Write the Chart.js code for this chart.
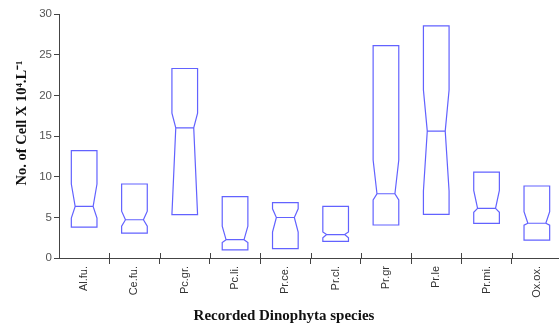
<!DOCTYPE html>
<html>
<head>
<meta charset="utf-8">
<script src="https://cdn.jsdelivr.net/npm/chart.js@4.4.1/dist/chart.umd.min.js"></script>
<style>
    html, body { margin: 0; padding: 0; background: #fff; overflow: hidden; }
    canvas { display: block; }
</style>
</head>
<body>
<canvas id="chart-box" width="565" height="327"></canvas>
<script>
/* ========================================
   Notched box plot — Dinophyta species
   ======================================== */

const SPECIES = ['Al.fu.', 'Ce.fu.', 'Pc.gr.', 'Pc.li.', 'Pr.ce.', 'Pr.cl.', 'Pr.gr', 'Pr.le', 'Pr.mi.', 'Ox.ox.'];

// box stats (No. of cell x 10^4 / L)
const Q3       = [13.2, 9.1, 23.3, 7.55, 6.8, 6.35, 26.1, 28.55, 10.55, 8.85];
const NOTCH_HI = [9.1, 5.75, 17.8, 3.9, 6.05, 3.2, 12.05, 20.65, 8.3, 5.7];
const MEDIAN   = [6.35, 4.7, 16.0, 2.25, 4.98, 2.88, 7.9, 15.6, 6.1, 4.27];
const NOTCH_LO = [4.9, 3.9, 5.33, 1.9, 3.2, 2.48, 7.15, 8.25, 5.62, 4.03];
const Q1       = [3.8, 3.05, 5.33, 1.0, 1.15, 2.05, 4.06, 5.37, 4.26, 2.2];

const Y_TICKS = [0, 5, 10, 15, 20, 25, 30];

const BOX_COLOR = 'rgb(98,98,255)';
const AXIS_COLOR = '#444';

// draws the notched outlines on top of the (invisible) floating bars
const notchPlugin = {
    id: 'notchBoxes',
    afterDatasetsDraw(chart) {
        const ctx = chart.ctx;
        const y = chart.scales.y;
        const bars = chart.getDatasetMeta(0).data;
        ctx.save();
        ctx.strokeStyle = BOX_COLOR;
        ctx.lineWidth = 1.2;
        bars.forEach((bar, i) => {
            const hw = bar.width / 2;
            const l = bar.x - hw, r = bar.x + hw;
            const inset = bar.width * 0.15;
            const yTop = y.getPixelForValue(Q3[i]);
            const yHi = y.getPixelForValue(NOTCH_HI[i]);
            const yMed = y.getPixelForValue(MEDIAN[i]);
            const yLo = y.getPixelForValue(NOTCH_LO[i]);
            const yBot = y.getPixelForValue(Q1[i]);
            ctx.beginPath();
            ctx.moveTo(l, yTop);
            ctx.lineTo(r, yTop);
            ctx.lineTo(r, yHi);
            ctx.lineTo(r - inset, yMed);
            ctx.lineTo(r, yLo);
            ctx.lineTo(r, yBot);
            ctx.lineTo(l, yBot);
            ctx.lineTo(l, yLo);
            ctx.lineTo(l + inset, yMed);
            ctx.lineTo(l, yHi);
            ctx.closePath();
            ctx.moveTo(l + inset, yMed);
            ctx.lineTo(r - inset, yMed);
            ctx.stroke();
        });

        // category separators poke a little above the x axis too
        const x = chart.scales.x;
        const yAxis = chart.chartArea.bottom;
        ctx.strokeStyle = AXIS_COLOR;
        ctx.lineWidth = 1;
        for (let i = 1; i < SPECIES.length; i++) {
            const px = Math.round((x.getPixelForValue(i - 1) + x.getPixelForValue(i)) / 2) + 0.5;
            ctx.beginPath();
            ctx.moveTo(px, yAxis - 5);
            ctx.lineTo(px, yAxis);
            ctx.stroke();
        }
        ctx.restore();
    },
    afterDraw(chart) {
        const ctx = chart.ctx;
        ctx.save();
        ctx.fillStyle = '#111';
        ctx.font = 'bold 15px "Liberation Serif", "Times New Roman", serif';
        ctx.textAlign = 'center';
        ctx.textBaseline = 'middle';
        ctx.fillText('Recorded Dinophyta species', 284, 316);

        ctx.translate(22, 123);
        ctx.rotate(-Math.PI / 2);
        ctx.font = 'bold 14.5px "Liberation Serif", "Times New Roman", serif';
        ctx.fillText('No. of Cell X 10\u2074.L\u207B\u00B9', 0, 0);
        ctx.restore();
    }
};

new Chart(document.getElementById('chart-box'), {
    type: 'bar',
    data: {
        labels: SPECIES,
        datasets: [{
            data: Q1.map((lo, i) => [lo, Q3[i]]),
            backgroundColor: 'transparent',
            borderWidth: 0,
            barPercentage: 0.51,
            categoryPercentage: 1
        }]
    },
    options: {
        responsive: false,
        animation: false,
        layout: { padding: { left: 0, top: 14, right: 3, bottom: 0 } },
        plugins: {
            legend: { display: false },
            tooltip: { enabled: false }
        },
        scales: {
            x: {
                offset: true,
                border: { display: true, color: AXIS_COLOR, width: 1 },
                grid: {
                    drawOnChartArea: false,
                    drawTicks: true,
                    tickLength: 6,
                    color: c => (c.index === 0 ? 'transparent' : AXIS_COLOR)
                },
                ticks: {
                    minRotation: 90, maxRotation: 90,
                    padding: 2,
                    color: '#333',
                    font: { family: '"Liberation Sans", Arial, sans-serif', size: 11 }
                },
                afterFit: s => { s.height = 69; }
            },
            y: {
                min: 0, max: 30,
                afterBuildTicks: s => { s.ticks = Y_TICKS.map(v => ({ value: v })); },
                border: { display: true, color: AXIS_COLOR, width: 1 },
                grid: { drawOnChartArea: false, drawTicks: true, tickLength: 5, color: AXIS_COLOR },
                ticks: {
                    padding: 2,
                    color: '#555',
                    font: { family: '"Liberation Sans", Arial, sans-serif', size: 11.5 }
                },
                afterFit: s => { s.width = 59; }
            }
        }
    },
    plugins: [notchPlugin]
});
</script>
</body>
</html>
